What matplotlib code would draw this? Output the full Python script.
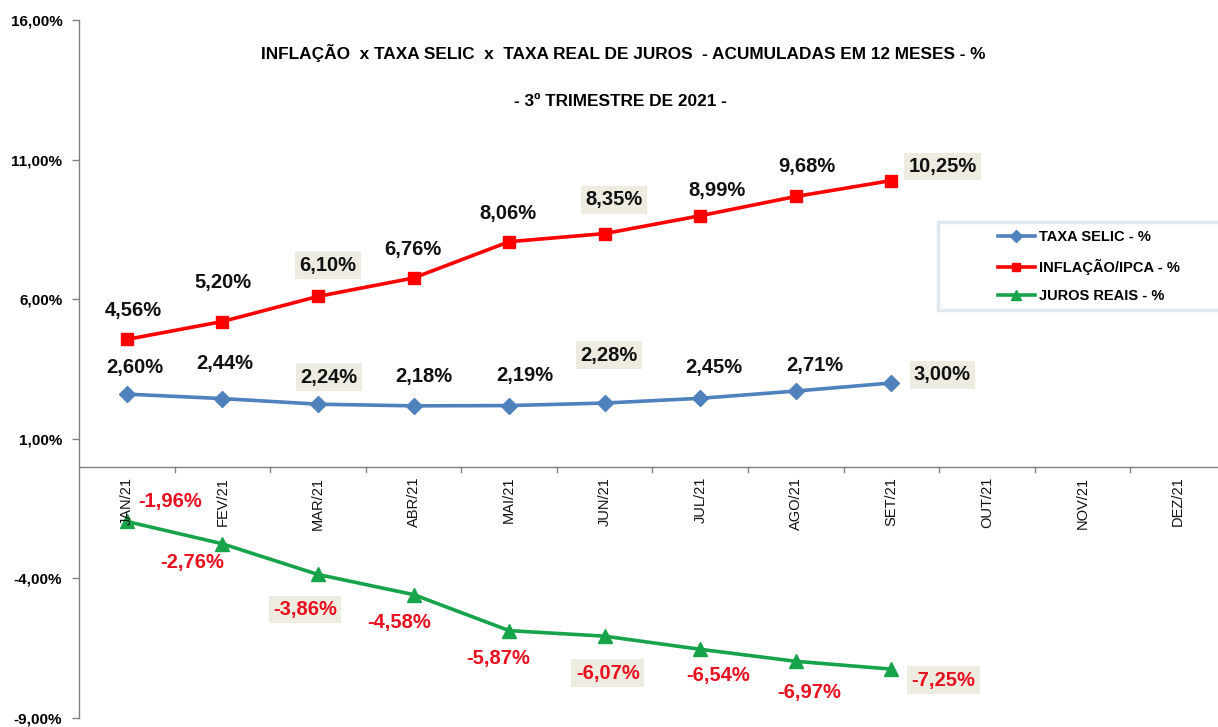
import matplotlib
matplotlib.use("Agg")
import matplotlib.pyplot as plt
from matplotlib.patches import Rectangle

# ---- data ----
months = ["JAN/21", "FEV/21", "MAR/21", "ABR/21", "MAI/21", "JUN/21",
          "JUL/21", "AGO/21", "SET/21", "OUT/21", "NOV/21", "DEZ/21"]
selic = [2.60, 2.44, 2.24, 2.18, 2.19, 2.28, 2.45, 2.71, 3.00]
ipca = [4.56, 5.20, 6.10, 6.76, 8.06, 8.35, 8.99, 9.68, 10.25]
juros = [-1.96, -2.76, -3.86, -4.58, -5.87, -6.07, -6.54, -6.97, -7.25]
y_ticks = [16, 11, 6, 1, -4, -9]
y_tick_labels = ["16,00%", "11,00%", "6,00%", "1,00%", "-4,00%", "-9,00%"]
series_names = ["TAXA SELIC - %", "INFLAÇÃO/IPCA - %", "JUROS REAIS - %"]
title1 = "INFLAÇÃO  x TAXA SELIC  x  TAXA REAL DE JUROS  - ACUMULADAS EM 12 MESES - %"
title2 = "- 3º TRIMESTRE DE 2021 -"

# ---- label placement (pixel offsets from the point; layout only) ----
off_ipca = [(7, 29), (1, 39), (10, 31), (-1, 28), (-1, 28), (9, 34), (17, 25), (11, 30), (51, 14)]
off_selic = [(8, 27), (2, 35), (11, 27), (10, 29), (16, 30), (4, 48), (14, 31), (19, 26), (51, 8)]
off_juros = [(43, 20), (-30, -19), (-13, -35), (-14, -28), (-11, -28), (3, -37), (18, -26), (13, -31), (52, -11)]
boxed = {2, 5, 8}

FONT = ["Liberation Sans", "DejaVu Sans"]

c_selic = "#4f81bd"
c_ipca = "#ff0000"
c_juros = "#17a34a"
box_col = "#eeece1"

W, H = 1218, 727
fig = plt.figure(figsize=(W / 100, H / 100), dpi=100)
ax = fig.add_axes([79 / W, 1 - 718 / H, (1226 - 79) / W, (718 - 20) / H])

x = list(range(len(selic)))
ax.plot(x, selic, color=c_selic, lw=2.6, marker="D", ms=8, label=series_names[0], zorder=3)
ax.plot(x, ipca, color=c_ipca, lw=2.6, marker="s", ms=8.5, label=series_names[1], zorder=3)
ax.plot(x, juros, color=c_juros, lw=2.6, marker="^", ms=9.5, label=series_names[2], zorder=3)

ax.set_xlim(-0.5, len(months) - 0.5)
ax.set_ylim(-9, 16)

# spines
for s in ["top", "right", "bottom"]:
    ax.spines[s].set_visible(False)
ax.spines["left"].set_color("#808080")
ax.spines["left"].set_linewidth(1.0)
ax.axhline(0, color="#808080", lw=1.0, zorder=1)

ax.set_yticks(y_ticks)
ax.set_yticklabels(y_tick_labels, family=FONT, fontweight="bold", fontsize=11)
ax.tick_params(axis="y", direction="out", length=5, width=1, color="#808080", pad=7)

# x: category ticks at boundaries on the zero line, labels rotated below
ax.set_xticks([])
for i in range(1, len(months)):
    ax.plot([i - 0.5, i - 0.5], [0, -0.2], color="#808080", lw=1.0, zorder=1)
for i, m in enumerate(months):
    ax.annotate(m, (i, 0), xytext=(0, -10), textcoords="offset pixels",
                rotation=90, ha="center", va="top", family=FONT,
                fontsize=10.5, color="#111111")


def labels(vals, offs, color):
    for i, (v, (dx, dy)) in enumerate(zip(vals, offs)):
        txt = f"{v:.2f}%".replace(".", ",")
        bbox = dict(boxstyle="square,pad=0.22", fc=box_col, ec="none") if i in boxed else None
        ax.annotate(txt, (i, v), xytext=(dx, dy), textcoords="offset pixels",
                    ha="center", va="center", family=FONT, fontweight="bold",
                    fontsize=14.5, color=color, bbox=bbox, zorder=4)


labels(ipca, off_ipca, "#111111")
labels(selic, off_selic, "#111111")
labels(juros, off_juros, "#e8101e")

# titles
fig.text(623 / W, 1 - 53 / H, title1, ha="center", va="center", family=FONT,
         fontweight="bold", fontsize=12.4)
fig.text(620 / W, 1 - 101 / H, title2, ha="center", va="center", family=FONT,
         fontweight="bold", fontsize=12.4)

# legend frame + legend
fig.patches.append(Rectangle((938 / W, 1 - 310 / H), (1240 - 938) / W, (310 - 222) / H,
                             transform=fig.transFigure, fc="white", ec="#dfe7f1", lw=2.5,
                             zorder=5))
leg = fig.legend(loc="upper left", bbox_to_anchor=(982 / W, 1 - 214 / H),
                 frameon=False, prop=dict(family=FONT, weight="bold", size=10.5),
                 handlelength=2.5, handletextpad=0.3, labelspacing=1.0,
                 borderpad=0.6, markerscale=0.75)
leg.set_zorder(6)

fig.savefig("out.png", dpi=100)
